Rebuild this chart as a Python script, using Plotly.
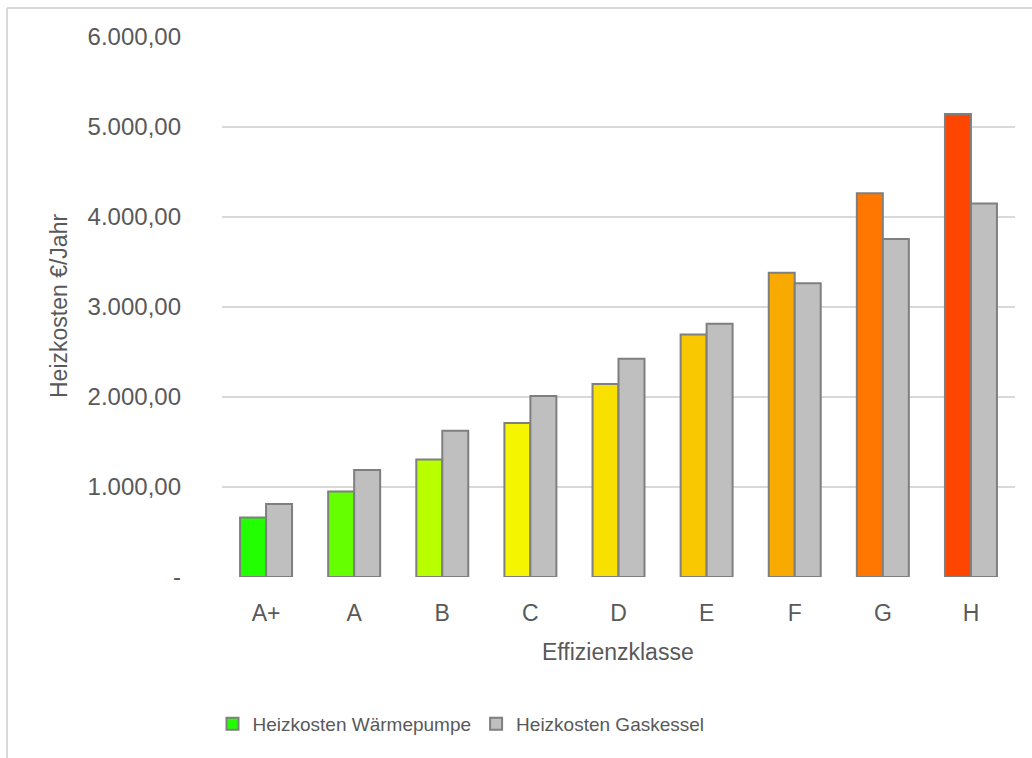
import plotly.graph_objects as go

# Energy efficiency classes and annual heating costs (EUR/year)
klassen = ["A+", "A", "B", "C", "D", "E", "F", "G", "H"]
waermepumpe = [660, 950, 1305, 1710, 2145, 2695, 3380, 4265, 5145]
gaskessel = [810, 1190, 1625, 2010, 2425, 2815, 3265, 3755, 4150]

# Class colours from green to red-orange
klassen_farben = ["#22ff00", "#66ff00", "#b8ff00", "#f5f500", "#f8e000",
                  "#fac800", "#f9aa00", "#ff7700", "#ff4600"]
gas_farbe = "#bfbfbf"
rand_farbe = "#7f7f7f"
text_farbe = "#595959"

y_ticks = [0, 1000, 2000, 3000, 4000, 5000, 6000]


def de_format(v):
    if v == 0:
        return "-"
    s = f"{v:,.2f}"
    return s.replace(",", "X").replace(".", ",").replace("X", ".")


y_labels = [de_format(v) for v in y_ticks]

FONT = "Liberation Sans, Arial, sans-serif"

fig = go.Figure()
fig.add_trace(go.Bar(
    x=klassen, y=waermepumpe, name="Heizkosten Wärmepumpe",
    marker=dict(color=klassen_farben, line=dict(color=rand_farbe, width=2)),
))
fig.add_trace(go.Bar(
    x=klassen, y=gaskessel, name="Heizkosten Gaskessel",
    marker=dict(color=gas_farbe, line=dict(color=rand_farbe, width=2)),
))

L, R, T, B = 222, 17, 37, 181
W, H = 1032, 758
pw, ph = W - L - R, H - T - B


def px_x(px):
    return (px - L) / pw


def px_y(py):
    return (H - B - py) / ph


fig.update_layout(
    width=W, height=H,
    margin=dict(l=L, r=R, t=T, b=B, autoexpand=False),
    paper_bgcolor="white", plot_bgcolor="white",
    barmode="group", bargap=0.41, bargroupgap=0,
    font=dict(family=FONT, color=text_farbe),
    showlegend=True,
    legend=dict(
        orientation="h", x=px_x(461), y=px_y(724),
        xanchor="center", yanchor="middle",
        font=dict(size=19, color=text_farbe),
        itemsizing="constant", traceorder="normal",
    ),
    xaxis=dict(
        showgrid=False, zeroline=False, showline=False,
        tickfont=dict(size=23, color=text_farbe),
        ticklabelstandoff=20,
    ),
    yaxis=dict(
        range=[0, 6000], tickvals=y_ticks, ticktext=y_labels,
        showgrid=True, gridcolor="#d9d9d9", gridwidth=1.5,
        zeroline=False, showline=False,
        tickfont=dict(size=24, color=text_farbe),
        ticklabelstandoff=40,
    ),
    annotations=[
        dict(text="Heizkosten €/Jahr", xref="paper", yref="paper",
             x=px_x(59), y=px_y(306), textangle=-90, showarrow=False,
             xanchor="center", yanchor="middle",
             font=dict(size=23, color=text_farbe)),
        dict(text="Effizienzklasse", xref="paper", yref="paper",
             x=px_x(618), y=px_y(652), showarrow=False,
             xanchor="center", yanchor="middle",
             font=dict(size=23, color=text_farbe)),
    ],
    shapes=[
        dict(type="line", xref="paper", yref="paper",
             x0=px_x(7), x1=px_x(7), y0=px_y(8), y1=px_y(770),
             line=dict(color="#d9d9d9", width=2)),
        dict(type="line", xref="paper", yref="paper",
             x0=px_x(7), x1=px_x(1040), y0=px_y(8), y1=px_y(8),
             line=dict(color="#d9d9d9", width=2)),
    ],
)

fig.write_html("out.html")
